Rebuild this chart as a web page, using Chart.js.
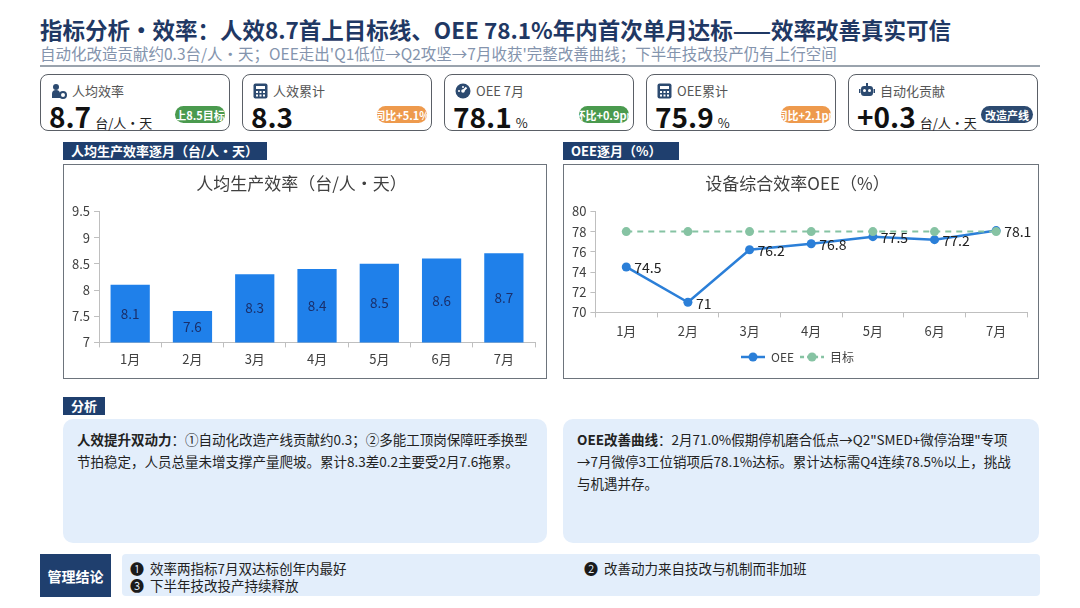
<!DOCTYPE html>
<html><head><meta charset="utf-8">
<script src="https://cdn.jsdelivr.net/npm/chart.js@4"></script>
<style>
*{box-sizing:border-box;margin:0;padding:0}
body{width:1080px;height:608px;background:#fff;font-family:"Noto Sans CJK SC","Noto Sans",sans-serif;position:relative;overflow:hidden;color:#222}
.abs{position:absolute}
#title{left:40px;top:13px;font-size:22.5px;font-weight:bold;color:#1f3864;white-space:nowrap}
#sub{left:40px;top:42px;font-size:15.5px;color:#8494ad;white-space:nowrap}
#rule{left:40px;top:65px;width:1000px;height:1.5px;background:#9aa3ad}
.card{position:absolute;top:74px;width:190px;height:57px;border:1.5px solid #5a5f66;border-radius:8px;background:#fff}
.card .lab{position:absolute;left:10px;top:6px;font-size:13px;color:#555;display:flex;align-items:center;gap:5px;white-space:nowrap}
.card .val{position:absolute;left:8px;top:21px;font-size:28px;font-weight:bold;color:#111;white-space:nowrap}
.card .val span{font-size:13px;font-weight:normal;margin-left:4px;color:#222}
.badge{position:absolute;right:4px;top:31px;width:50px;height:17px;border-radius:9px;overflow:hidden;color:#fff;font-size:11px;font-weight:bold;display:flex;justify-content:center;align-items:center;white-space:nowrap}
.sec{position:absolute;background:#1f3f6e;color:#fff;font-size:13px;font-weight:bold;height:18px;line-height:18px;padding-left:8px}
.box{position:absolute;border:1.5px solid #6d747c;background:#fff}
.ana{position:absolute;top:419px;height:124px;background:#e3eefb;border-radius:10px;font-size:13.5px;line-height:22px;color:#222;padding:9px 14px}
.ana b{font-weight:bold}
.con{position:absolute;white-space:nowrap;font-size:13.5px}
.con i{font-style:normal;font-size:14px;margin-right:6px;color:#1b1b1b}
</style></head><body>
<div id="title" class="abs">指标分析•效率：人效8.7首上目标线、OEE 78.1%年内首次单月达标——效率改善真实可信</div>
<div id="sub" class="abs">自动化改造贡献约0.3台/人·天；OEE走出'Q1低位→Q2攻坚→7月收获'完整改善曲线；下半年技改投产仍有上行空间</div>
<div id="rule" class="abs"></div>

<div class="card" style="left:40px"><div class="lab"><svg width="16" height="16" viewBox="0 0 16 16"><circle cx="5" cy="4" r="3" fill="#2c4a70"/><path d="M1 15v-4a4 4 0 0 1 8 0v4z" fill="#2c4a70"/><circle cx="12" cy="12" r="3" fill="none" stroke="#2c4a70" stroke-width="2"/></svg>人均效率</div><div class="val">8.7<span>台/人·天</span></div><div class="badge" style="background:#4a9a4e">站上8.5目标线</div></div>
<div class="card" style="left:242px"><div class="lab"><svg width="15" height="16" viewBox="0 0 15 16"><rect x="0.5" y="0.5" width="14" height="15" rx="2" fill="#2c4a70"/><rect x="3" y="3" width="9" height="3" fill="#fff"/><rect x="3" y="8" width="2" height="2" fill="#fff"/><rect x="6.5" y="8" width="2" height="2" fill="#fff"/><rect x="10" y="8" width="2" height="2" fill="#fff"/><rect x="3" y="11.5" width="2" height="2" fill="#fff"/><rect x="6.5" y="11.5" width="2" height="2" fill="#fff"/><rect x="10" y="11.5" width="2" height="2" fill="#fff"/></svg>人效累计</div><div class="val">8.3</div><div class="badge" style="background:#ee9a4d">同比+5.1%</div></div>
<div class="card" style="left:444px"><div class="lab"><svg width="16" height="16" viewBox="0 0 16 16"><circle cx="8" cy="8" r="7.5" fill="#2c4a70"/><path d="M8 8L11.5 4.5" stroke="#fff" stroke-width="2"/><circle cx="8" cy="8" r="1.8" fill="#fff"/><circle cx="4" cy="8" r="1" fill="#fff"/><circle cx="8" cy="4" r="1" fill="#fff"/></svg>OEE 7月</div><div class="val">78.1<span>%</span></div><div class="badge" style="background:#4a9a4e">环比+0.9pp</div></div>
<div class="card" style="left:646px"><div class="lab"><svg width="15" height="16" viewBox="0 0 15 16"><rect x="0.5" y="0.5" width="14" height="15" rx="2" fill="#2c4a70"/><rect x="3" y="3" width="9" height="3" fill="#fff"/><rect x="3" y="8" width="2" height="2" fill="#fff"/><rect x="6.5" y="8" width="2" height="2" fill="#fff"/><rect x="10" y="8" width="2" height="2" fill="#fff"/><rect x="3" y="11.5" width="2" height="2" fill="#fff"/><rect x="6.5" y="11.5" width="2" height="2" fill="#fff"/><rect x="10" y="11.5" width="2" height="2" fill="#fff"/></svg>OEE累计</div><div class="val">75.9<span>%</span></div><div class="badge" style="background:#ee9a4d">同比+2.1pp</div></div>
<div class="card" style="left:848px"><div class="lab"><svg width="16" height="16" viewBox="0 0 16 16"><rect x="7" y="0" width="2" height="3" fill="#2c4a70"/><rect x="2" y="3" width="12" height="10" rx="3" fill="#2c4a70"/><circle cx="5.5" cy="7.5" r="1.5" fill="#fff"/><circle cx="10.5" cy="7.5" r="1.5" fill="#fff"/><rect x="0" y="6" width="1.5" height="4" fill="#2c4a70"/><rect x="14.5" y="6" width="1.5" height="4" fill="#2c4a70"/></svg>自动化贡献</div><div class="val">+0.3<span>台/人·天</span></div><div class="badge" style="background:#2c4a70;width:52px">改造产线</div></div>

<div class="sec" style="left:63px;top:142px;width:204px">人均生产效率逐月（台/人•天）</div>
<div class="sec" style="left:563px;top:142px;width:116px">OEE逐月（%）</div>
<div class="box" style="left:63px;top:164px;width:484px;height:215px"><canvas id="c1" width="481" height="212"></canvas></div>
<div class="box" style="left:563px;top:164px;width:476px;height:215px"><canvas id="c2" width="473" height="212"></canvas></div>

<div class="sec" style="left:63px;top:397px;width:42px">分析</div>
<div class="ana" style="left:63px;width:484px"><b>人效提升双动力</b>：①自动化改造产线贡献约0.3；②多能工顶岗保障旺季换型节拍稳定，人员总量未增支撑产量爬坡。累计8.3差0.2主要受2月7.6拖累。</div>
<div class="ana" style="left:563px;width:476px;padding-right:20px"><b>OEE改善曲线</b>：2月71.0%假期停机磨合低点→Q2"SMED+微停治理"专项→7月微停3工位销项后78.1%达标。累计达标需Q4连续78.5%以上，挑战与机遇并存。</div>

<div class="abs" style="left:40px;top:554px;width:71px;height:43px;background:#1f3f6e;color:#fff;font-size:14px;font-weight:bold;display:flex;align-items:center;justify-content:center">管理结论</div>
<div class="abs" style="left:122px;top:554px;width:918px;height:42px;background:#e3eefb;border-radius:4px;color:#222">
<div class="con" style="left:8px;top:4px"><i>❶</i>效率两指标7月双达标创年内最好</div>
<div class="con" style="left:8px;top:21px"><i>❸</i>下半年技改投产持续释放</div>
<div class="con" style="left:462px;top:4px"><i>❷</i>改善动力来自技改与机制而非加班</div>
</div>

<script>
const months = ['1月','2月','3月','4月','5月','6月','7月'];
const efficiency = [8.1, 7.6, 8.3, 8.4, 8.5, 8.6, 8.7];
const oee = [74.5, 71, 76.2, 76.8, 77.5, 77.2, 78.1];
const oeeTarget = [78, 78, 78, 78, 78, 78, 78];

const FONT = '"Noto Sans CJK SC","Noto Sans",sans-serif';
Chart.defaults.font.family = FONT;
Chart.defaults.color = '#404040';
Chart.defaults.animation = false;

function makeLabelPlugin(index, mode, color, size) {
  return {
    id: 'vlabels' + mode,
    afterDatasetsDraw(chart) {
      const ctx = chart.ctx;
      const meta = chart.getDatasetMeta(index);
      const data = chart.data.datasets[index].data;
      const yScale = chart.scales.y;
      ctx.save();
      ctx.font = size + 'px ' + FONT;
      ctx.fillStyle = color;
      ctx.textBaseline = 'middle';
      meta.data.forEach((el, i) => {
        const p = el.getProps(['x', 'y'], true);
        if (mode === 'center') {
          ctx.textAlign = 'center';
          const base = yScale.getPixelForValue(yScale.min);
          ctx.fillText(String(data[i]), p.x, (p.y + base) / 2);
        } else {
          ctx.textAlign = 'left';
          ctx.fillText(String(data[i]), p.x + 8, p.y + 1);
        }
      });
      ctx.restore();
    }
  };
}

const axisGrid = {display:true, drawOnChartArea:false, drawTicks:true, tickLength:5, color:'#bfbfbf'};
const axisBorder = {display:true, color:'#bfbfbf', width:1};
const plainTick = v => String(v);

new Chart(document.getElementById('c1'), {
  type: 'bar',
  data: { labels: months, datasets: [{ data: efficiency, backgroundColor: '#1f80ea', categoryPercentage: 0.63, barPercentage: 1 }] },
  options: {
    responsive: false,
    layout: { padding: { left: 4, right: 10, top: 0, bottom: 6 } },
    plugins: {
      legend: { display: false },
      tooltip: { enabled: false },
      title: { display: true, text: '人均生产效率（台/人·天）', font: { size: 17, weight: 'normal' }, color: '#404040', padding: { top: 8, bottom: 18 } }
    },
    scales: {
      x: { grid: axisGrid, border: axisBorder, ticks: { font: { size: 13 }, color: '#404040', padding: 4 } },
      y: { min: 7, max: 9.5, grid: axisGrid, border: axisBorder, ticks: { stepSize: 0.5, font: { size: 13 }, color: '#404040', padding: 4, callback: plainTick } }
    }
  },
  plugins: [makeLabelPlugin(0, 'center', '#1a2f6b', 13.5)]
});

function legendIcon(color, dashed) {
  const c = document.createElement('canvas');
  c.width = 24; c.height = 10;
  const x = c.getContext('2d');
  x.strokeStyle = color; x.lineWidth = 2.5;
  if (dashed) x.setLineDash([4, 3]);
  x.beginPath(); x.moveTo(0, 5); x.lineTo(24, 5); x.stroke();
  x.fillStyle = color; x.beginPath(); x.arc(12, 5, 4.5, 0, Math.PI * 2); x.fill();
  return c;
}

new Chart(document.getElementById('c2'), {
  type: 'line',
  data: { labels: months, datasets: [
    { label: 'OEE', data: oee, order: 1, borderColor: '#2b7fd8', backgroundColor: '#2b7fd8', borderWidth: 2.5, pointRadius: 4.5, pointBackgroundColor: '#2b7fd8', pointBorderWidth: 0, tension: 0 },
    { label: '目标', data: oeeTarget, order: 0, borderColor: '#86c3a3', backgroundColor: '#86c3a3', borderWidth: 2, borderDash: [6, 5], pointRadius: 4.5, pointBackgroundColor: '#86c3a3', pointBorderWidth: 0, tension: 0 }
  ] },
  options: {
    responsive: false,
    layout: { padding: { left: 4, right: 10, top: 0, bottom: 4 } },
    plugins: {
      tooltip: { enabled: false },
      title: { display: true, text: '设备综合效率OEE（%）', font: { size: 17, weight: 'normal' }, color: '#404040', padding: { top: 8, bottom: 18 } },
      legend: { position: 'bottom', labels: { usePointStyle: true, pointStyleWidth: 24, boxHeight: 10, padding: 6, font: { size: 12 }, color: '#404040',
        generateLabels(chart) {
          return [0, 1].map(i => { const d = chart.data.datasets[i]; return { text: d.label, pointStyle: legendIcon(d.borderColor, i === 1), fillStyle: d.borderColor, strokeStyle: d.borderColor, lineWidth: 0, datasetIndex: i, fontColor: '#404040' }; });
        } } }
    },
    scales: {
      x: { offset: true, grid: Object.assign({}, axisGrid, { offset: true }), border: axisBorder, ticks: { font: { size: 13 }, color: '#404040', padding: 6 } },
      y: { min: 70, max: 80, grid: axisGrid, border: axisBorder, ticks: { stepSize: 2, font: { size: 13 }, color: '#404040', padding: 4, callback: plainTick } }
    }
  },
  plugins: [makeLabelPlugin(0, 'right', '#222', 14)]
});
</script>
</body></html>
